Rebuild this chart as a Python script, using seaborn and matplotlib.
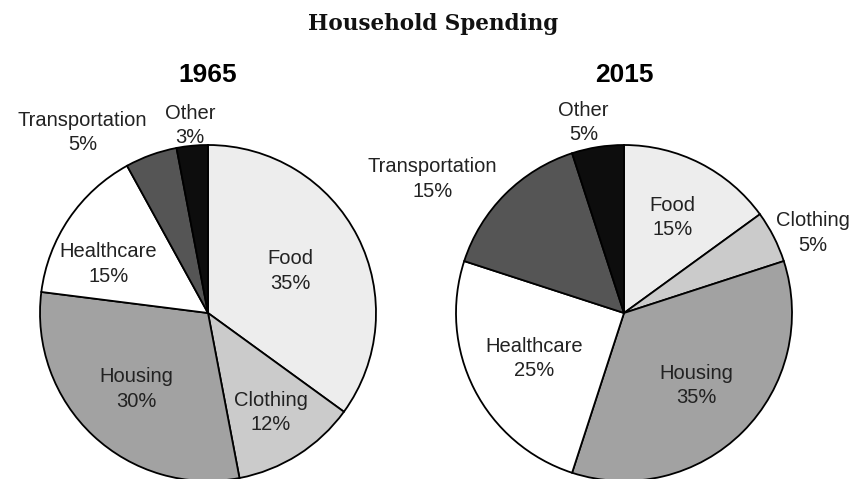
import numpy as np
import matplotlib
matplotlib.use("Agg")
import matplotlib.pyplot as plt
import seaborn as sns

sns.set_theme(style="white")
plt.rcParams['font.family'] = ['Liberation Sans', 'DejaVu Sans']

# data
categories = ["Food", "Clothing", "Housing", "Healthcare", "Transportation", "Other"]
share_1965 = [35, 12, 30, 15, 5, 3]
share_2015 = [15, 5, 35, 25, 15, 5]
years = ["1965", "2015"]

# grey shades per category
colors = ["#ededed", "#cbcbcb", "#a2a2a2", "#ffffff", "#555555", "#0d0d0d"]

# label placement: distance from centre (in radii) and angle nudge (deg, clockwise)
label_dist = {
    "1965": [0.55, 0.70, 0.62, 0.66, 1.31, 1.12],
    "2015": [0.64, 1.22, 0.61, 0.60, 1.39, 1.16],
}
label_nudge = {
    "1965": [0, 0, 0, -8, -15, 0],
    "2015": [0, 4, 0, 0, -10, -3],
}

W, H = 851, 479
fig = plt.figure(figsize=(W / 100, H / 100), dpi=100)

centers = [(208, 313), (624, 313)]
r = 168

for year, vals, (cx, cy) in zip(years, [share_1965, share_2015], centers):
    ax = fig.add_axes([(cx - r) / W, (H - cy - r) / H, 2 * r / W, 2 * r / H])
    wedges, _ = ax.pie(vals, colors=colors, startangle=90, counterclock=False,
                       radius=1, wedgeprops=dict(edgecolor="black", linewidth=1.3))
    ax.set_xlim(-1, 1)
    ax.set_ylim(-1, 1)
    ax.set_aspect("equal")
    ax.axis("off")
    for i, w in enumerate(wedges):
        ang = np.deg2rad((w.theta1 + w.theta2) / 2 - label_nudge[year][i])
        d = label_dist[year][i]
        ax.text(d * np.cos(ang), d * np.sin(ang), f"{categories[i]}\n{vals[i]}%",
                ha="center", va="center", fontsize=14.5, color="#222222",
                linespacing=1.35, clip_on=False)
    fig.text(cx / W, 1 - 75 / H, year, ha="center", va="center",
             fontsize=19, fontweight="bold", color="black")

fig.text(433 / W, 1 - 24 / H, "Household Spending", ha="center", va="center",
         fontsize=15.5, fontweight="bold", family="DejaVu Serif", color="#111111")

fig.savefig("out.png", dpi=100, facecolor="white")
